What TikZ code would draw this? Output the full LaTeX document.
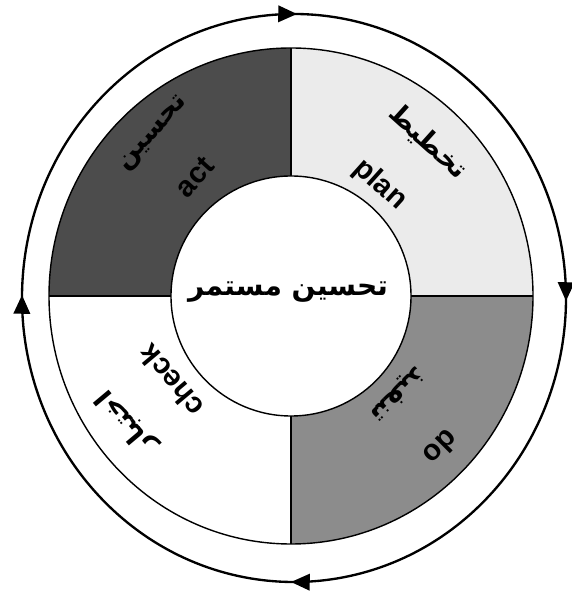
\documentclass[tikz,border=0pt]{standalone}
\usepackage{fontspec}
\setmainfont{Liberation Sans}
\newfontfamily\arabicfont[Script=Arabic]{DejaVu Sans}
\TeXXeTstate=1
\usetikzlibrary{arrows.meta,decorations.markings,calc}

\begin{document}
\begin{tikzpicture}[
    x=0.03cm, y=0.03cm,
    wheel/.style={draw, line width=1.2pt},
    ring/.style={line width=2pt, postaction={decorate}, decoration={markings,
        mark=at position 0.125 with {\arrow{Triangle[length=16pt,width=14pt]}},
        mark=at position 0.375 with {\arrow{Triangle[length=16pt,width=14pt]}},
        mark=at position 0.625 with {\arrow{Triangle[length=16pt,width=14pt]}},
        mark=at position 0.875 with {\arrow{Triangle[length=16pt,width=14pt]}}}},
    en/.style={font=\bfseries\fontsize{25}{27}\selectfont, inner sep=0pt},
    ar/.style={font=\arabicfont\bfseries\fontsize{23}{25}\selectfont, inner sep=0pt},
]
    \useasboundingbox (0,0) rectangle (572,594);
    \coordinate (c) at (291,298);
    \coordinate (oc) at (294,296);

    % outer cycle
    \draw[ring] ($(oc)+(135:272 and 284)$) arc[start angle=135, end angle=-225, x radius=272, y radius=284];

    % quadrants
    \fill[black!8] (c) -- ++(242,0) arc[start angle=0, end angle=90, x radius=242, y radius=248] -- cycle;
    \fill[black!70] (c) -- ++(0,248) arc[start angle=90, end angle=180, x radius=242, y radius=248] -- cycle;
    \fill[white] (c) -- ++(-242,0) arc[start angle=180, end angle=270, x radius=242, y radius=248] -- cycle;
    \fill[black!45] (c) -- ++(0,-248) arc[start angle=270, end angle=360, x radius=242, y radius=248] -- cycle;
    \draw[wheel] (c) ellipse[x radius=242, y radius=248];
    \draw[wheel] ($(c)+(-242,0)$) -- ($(c)+(242,0)$);
    \draw[wheel] ($(c)+(0,-248)$) -- ($(c)+(0,248)$);
    \draw[wheel, fill=white] (c) circle[radius=120];

    % labels
    \node[font=\arabicfont\bfseries\fontsize{24}{26}\selectfont] (core) at (288,302) {\beginR تحسين مستمر\endR};
    \node[ar, rotate=-42] (planar) at (428,452) {\beginR تخطيط\endR};
    \node[en, rotate=-42] (plan) at (380,409) {plan};
    \node[ar, rotate=48] (actar) at (154,460) {\beginR تحسين\endR};
    \node[en, rotate=48] (act) at (195,417) {act};
    \node[ar, rotate=225] (doar) at (397,200) {\beginR تنفيذ\endR};
    \node[en, rotate=225] (do) at (441,146) {do};
    \node[ar, rotate=130] (checkar) at (127,172) {\beginR اختبار\endR};
    \node[en, rotate=130] (check) at (171,213) {check};
\end{tikzpicture}
\end{document}
